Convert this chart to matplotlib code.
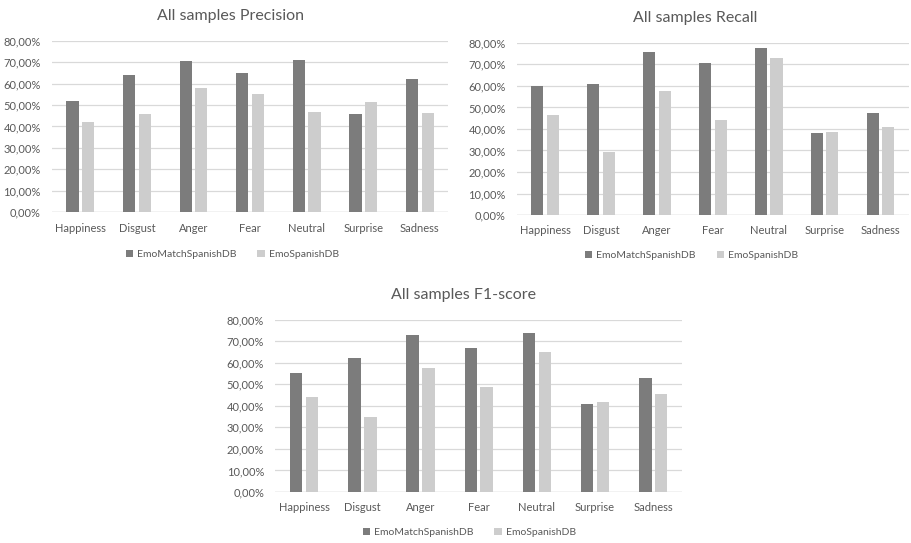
import numpy as np
import matplotlib.pyplot as plt
from matplotlib.ticker import FuncFormatter

# data (percent)
emotions = ["Happiness", "Disgust", "Anger", "Fear", "Neutral", "Surprise", "Sadness"]
series_names = ["EmoMatchSpanishDB", "EmoSpanishDB"]

precision_match = [52.0, 64.2, 70.4, 65.1, 71.2, 45.7, 62.2]
precision_spanish = [42.2, 46.0, 58.2, 55.0, 46.9, 51.5, 46.2]

recall_match = [59.8, 61.0, 75.9, 70.6, 77.7, 38.3, 47.4]
recall_spanish = [46.3, 29.1, 57.6, 44.3, 72.8, 38.5, 40.9]

f1_match = [55.1, 62.1, 73.1, 67.0, 73.9, 41.1, 53.1]
f1_spanish = [44.0, 35.0, 57.4, 48.9, 65.0, 41.6, 45.4]

y_ticks = [0, 10, 20, 30, 40, 50, 60, 70, 80]

DARK = "#7c7c7c"
LIGHT = "#cdcdcd"
TEXT = "#595959"
GRID = "#d9d9d9"

plt.rcParams['font.family'] = ['Lato', 'DejaVu Sans']


def pct(v, pos):
    return f"{v:.2f}%".replace(".", ",")


def draw(ax, title, match, spanish, title_x, legend_x, legend_y, xpad):
    x = np.arange(len(emotions))
    w = 0.215
    ax.bar(x - 0.137, match, w, color=DARK, label=series_names[0], zorder=3)
    ax.bar(x + 0.137, spanish, w, color=LIGHT, label=series_names[1], zorder=3)
    ax.set_xlim(-0.5, len(emotions) - 0.5)
    ax.set_ylim(0, 80)
    ax.set_yticks(y_ticks)
    ax.yaxis.set_major_formatter(FuncFormatter(pct))
    ax.set_xticks(x)
    ax.set_xticklabels(emotions)
    ax.grid(axis='y', color=GRID, linewidth=0.9, zorder=0)
    for s in ax.spines.values():
        s.set_visible(False)
    ax.axhline(0, color="#bfbfbf", linewidth=0.9, zorder=2)
    ax.tick_params(axis='both', length=0, labelsize=8, colors=TEXT)
    ax.tick_params(axis='y', pad=8)
    ax.tick_params(axis='x', pad=xpad)
    ax.set_title(title, fontsize=11.5, color=TEXT, pad=15, x=title_x)
    ax.legend(loc='center', bbox_to_anchor=(legend_x, legend_y), ncol=2,
              frameon=False, fontsize=7.5, labelcolor=TEXT,
              handlelength=0.7, handleheight=0.7, handletextpad=0.4,
              columnspacing=2.0)


fig = plt.figure(figsize=(9.11, 5.43), dpi=100)
ax1 = fig.add_axes([0.057, 0.6096, 0.435, 0.315])
ax2 = fig.add_axes([0.5675, 0.604, 0.430, 0.317])
ax3 = fig.add_axes([0.302, 0.094, 0.447, 0.317])

draw(ax1, "All samples Precision", precision_match, precision_spanish,
     0.45, 0.455, -0.25, 8)
draw(ax2, "All samples Recall", recall_match, recall_spanish,
     0.454, 0.446, -0.235, 7)
draw(ax3, "All samples F1-score", f1_match, f1_spanish,
     0.462, 0.477, -0.235, 7)

fig.savefig("out.png", dpi=100)
